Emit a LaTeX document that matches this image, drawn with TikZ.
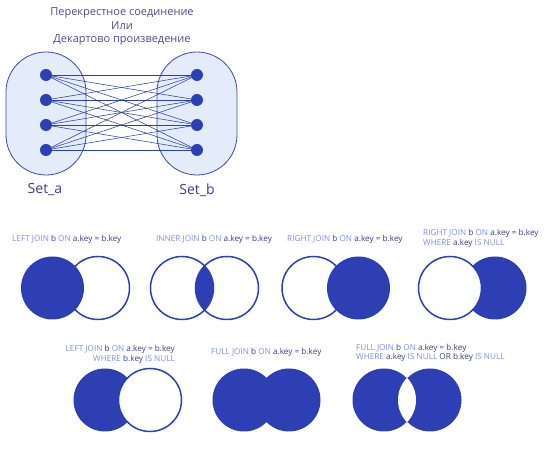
\documentclass[tikz,border=0pt]{standalone}
\usepackage{fontspec}
\setmainfont{Open Sans}

\definecolor{joinblue}{HTML}{2E3FB4}
\definecolor{setfill}{HTML}{E3ECF8}
\definecolor{setline}{HTML}{3D4C9E}
\definecolor{kwblue}{HTML}{7D90E0}
\definecolor{idblue}{HTML}{3A3E86}
\definecolor{titleblue}{HTML}{4B4C8C}

\newcommand{\sqlkw}[1]{\textcolor{kwblue}{#1}}
\newcommand{\sqlid}[1]{\textcolor{idblue}{#1}}

\tikzset{
  setbox/.style={draw=setline, fill=setfill, rounded corners=40pt,
    minimum width=80pt, minimum height=123pt, line width=0.8pt},
  elem/.style={circle, fill=joinblue, inner sep=0pt, minimum size=12pt},
  link/.style={joinblue, line width=0.55pt},
  ring/.style={draw=joinblue, line width=1.5pt},
  sqllabel/.style={font=\fontsize{8.2}{9.5}\selectfont, inner sep=0pt},
}

\begin{document}
\begin{tikzpicture}[x=1pt,y=-1pt]
	\useasboundingbox (0,0) rectangle (550,449);

	% cross join
	\node[font=\fontsize{11}{13.5}\selectfont, text=titleblue, align=center] (title) at (122,26.5)
		{Перекрестное соединение\\Или\\Декартово произведение};
	\node[setbox] (seta) at (46,113.5) {};
	\node[setbox] (setb) at (197,113.5) {};
	\foreach \i/\y in {1/75,2/100,3/125,4/150} {
		\node[elem] (a\i) at (46,\y) {};
		\node[elem] (b\i) at (197,\y) {};
	}
	\foreach \i in {1,...,4}
		\foreach \j in {1,...,4}
			\draw[link] (a\i.center) -- (b\j.center);
	\node[font=\fontsize{14}{16}\selectfont, text=idblue] (namea) at (45,190) {Set\_a};
	\node[font=\fontsize{14}{16}\selectfont, text=idblue] (nameb) at (197,190) {Set\_b};

	% left join
	\node[sqllabel, anchor=west] (q1) at (12,239)
		{\sqlkw{LEFT JOIN} \sqlid{b} \sqlkw{ON} \sqlid{a.key = b.key}};
	\draw[ring] (98,288) circle[radius=31.5pt];
	\fill[joinblue] (52.5,288) circle[radius=31.5pt];

	% inner join
	\node[sqllabel, anchor=west] (q2) at (156,239)
		{\sqlkw{INNER JOIN} \sqlid{b} \sqlkw{ON} \sqlid{a.key = b.key}};
	\begin{scope}
		\clip (182,288) circle[radius=31.5pt];
		\fill[joinblue] (227,288) circle[radius=31.5pt];
	\end{scope}
	\draw[ring] (182,288) circle[radius=31.5pt];
	\draw[ring] (227,288) circle[radius=31.5pt];

	% right join
	\node[sqllabel, anchor=west] (q3) at (287,239)
		{\sqlkw{RIGHT JOIN} \sqlid{b} \sqlkw{ON} \sqlid{a.key = b.key}};
	\draw[ring] (313.5,288) circle[radius=31.5pt];
	\fill[joinblue] (358.5,288) circle[radius=31.5pt];

	% right join, a.key is null
	\node[sqllabel, anchor=west, align=left] (q4) at (423,238.5)
		{\sqlkw{RIGHT JOIN} \sqlid{b} \sqlkw{ON} \sqlid{a.key = b.key}\\
		 \sqlkw{WHERE} \sqlid{a.key} \sqlkw{IS NULL}};
	\fill[joinblue] (495,288) circle[radius=31.5pt];
	\begin{scope}
		\clip (450,288) circle[radius=31.5pt];
		\fill[white] (495,288) circle[radius=32pt];
	\end{scope}
	\draw[ring] (450,288) circle[radius=31.5pt];

	% left join, b.key is null
	\node[sqllabel, anchor=east, align=right] (q5) at (175,354.5)
		{\sqlkw{LEFT JOIN} \sqlid{b} \sqlkw{ON} \sqlid{a.key = b.key}\\
		 \sqlkw{WHERE} \sqlid{b.key} \sqlkw{IS NULL}};
	\fill[joinblue] (105,400) circle[radius=31.5pt];
	\begin{scope}
		\clip (105,400) circle[radius=32pt];
		\fill[white] (150,400) circle[radius=31.5pt];
	\end{scope}
	\draw[ring] (150,400) circle[radius=31.5pt];

	% full join
	\node[sqllabel, anchor=west] (q6) at (211,352)
		{\sqlkw{FULL JOIN} \sqlid{b} \sqlkw{ON} \sqlid{a.key = b.key}};
	\fill[joinblue] (244,400) circle[radius=31.5pt];
	\fill[joinblue] (289,400) circle[radius=31.5pt];

	% full join, one key is null
	\node[sqllabel, anchor=west, align=left] (q7) at (356,353)
		{\sqlkw{FULL JOIN} \sqlid{b} \sqlkw{ON} \sqlid{a.key = b.key}\\
		 \sqlkw{WHERE} \sqlid{a.key} \sqlkw{IS NULL} \sqlid{OR b.key} \sqlkw{IS NULL}};
	\fill[joinblue] (384,400) circle[radius=31.5pt];
	\fill[joinblue] (430,400) circle[radius=31.5pt];
	\begin{scope}
		\clip (384,400) circle[radius=32pt];
		\fill[white] (430,400) circle[radius=32pt];
	\end{scope}

\end{tikzpicture}
\end{document}
